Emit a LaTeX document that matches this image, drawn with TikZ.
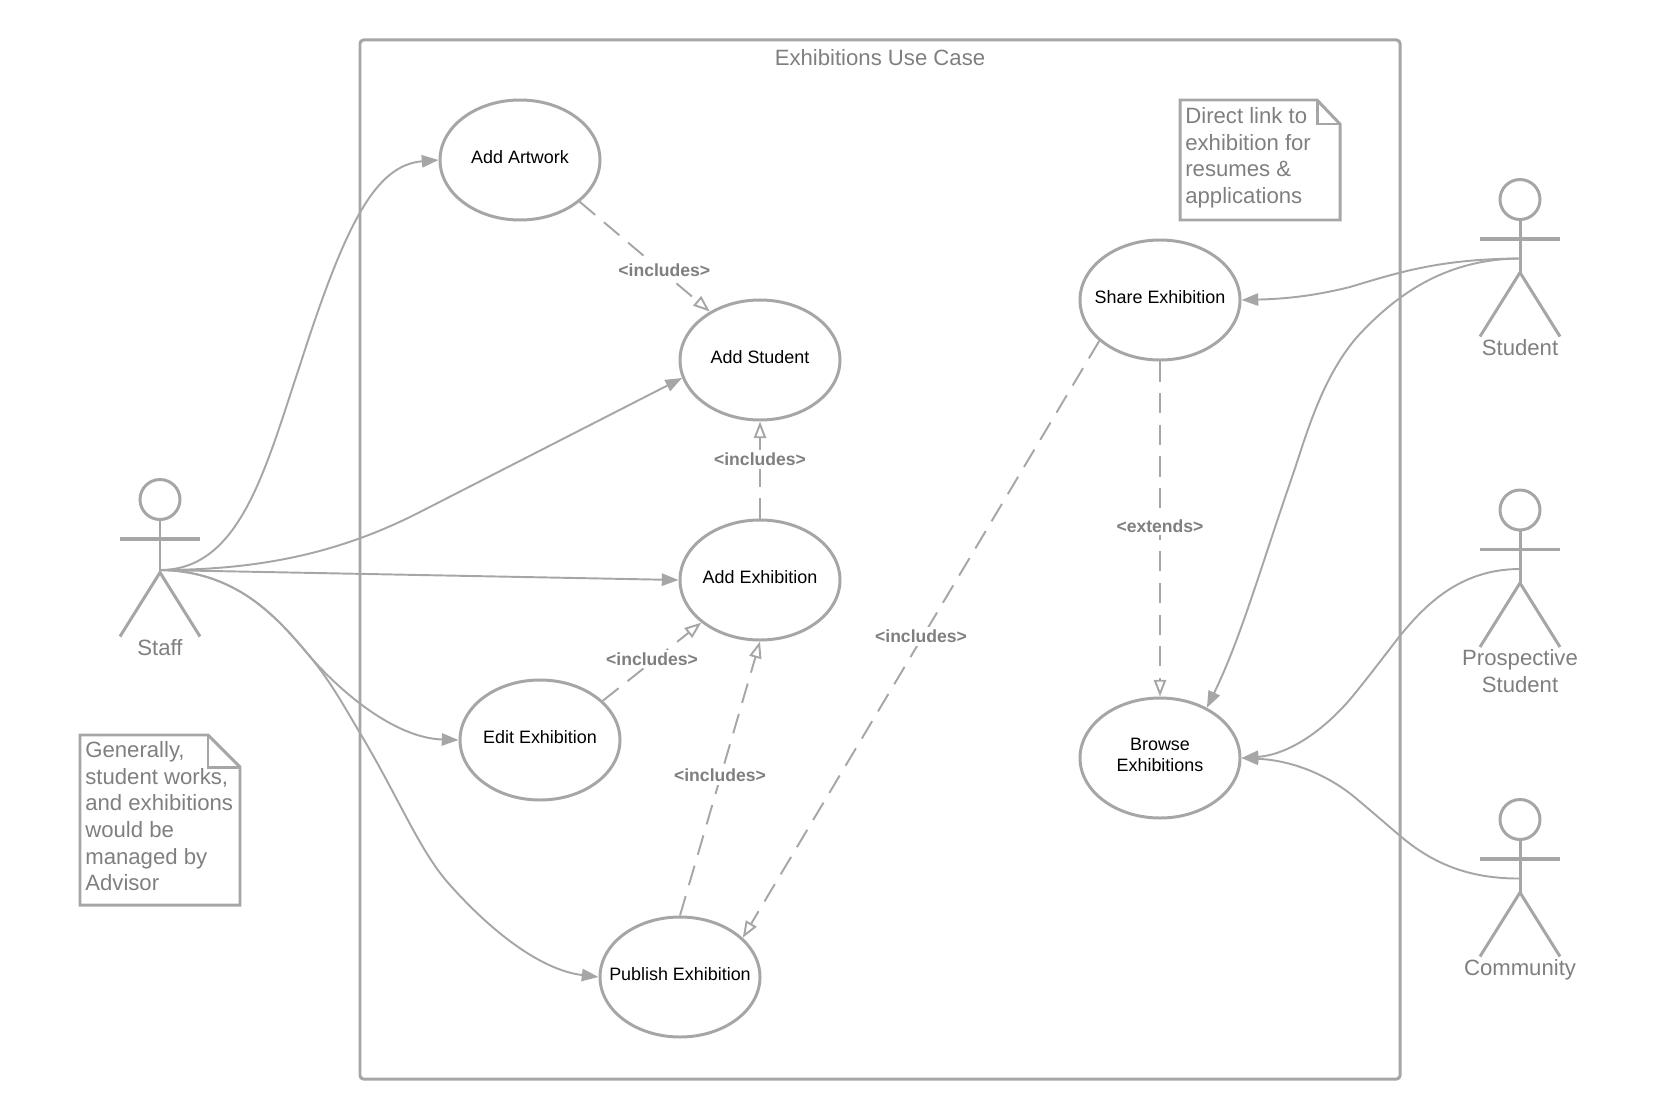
\documentclass[tikz,border=0pt]{standalone}
\usepackage{fontspec}
\setmainfont{Liberation Sans}
\usetikzlibrary{arrows.meta,shapes.geometric}

\definecolor{umlline}{HTML}{A6A6A6}
\definecolor{umltext}{HTML}{7F7F7F}

\newcommand{\actor}[5]{
  \begin{scope}[shift={(#2,#3)}]
    \node[actor head] (#1) at (0,0) {};
    \draw[actor line] (#1.south) -- (0,73);
    \draw[actor line,line width=2.2pt] (-40,39.5) -- (40,39.5);
    \draw[actor line] (-40,137) -- (0,73) -- (40,137);
    \coordinate (#1hub) at (0,#4);
    \node[actor text] (#1name) at (0,139.5) {#5};
  \end{scope}
}

\begin{document}
\begin{tikzpicture}[x=.2mm,y=-.2mm,
					use case/.style={ellipse,draw=umlline,line width=1.7pt,
						minimum width=32mm,minimum height=24mm,
						inner xsep=-20pt,inner ysep=0pt,text depth=3.6pt,align=center,
						font=\fontsize{10.2}{12.2}\selectfont},
					system box/.style={draw=umlline,line width=1.7pt,rounded corners=2pt,
						minimum width=208mm,minimum height=207.8mm},
					big text/.style={text=umltext,inner sep=0pt,
						font=\fontsize{12.6}{15.2}\selectfont},
					note text/.style={big text,anchor=north west,align=left},
					note line/.style={draw=umlline,line width=1.7pt},
					actor head/.style={circle,draw=umlline,line width=1.7pt,
						minimum size=8mm,inner sep=0pt},
					actor line/.style={draw=umlline,line width=1.7pt},
					actor text/.style={big text,anchor=north,align=center},
					assoc/.style={draw=umlline,line width=1.1pt,
						-{Triangle[length=9.5pt,width=7pt,color=umlline]}},
					dep/.style={draw=umlline,line width=1.1pt,dash pattern=on 11.5pt off 6.5pt,
						-{Triangle[open,length=9.5pt,width=7pt,fill=white,color=umlline]}},
					dep text/.style={fill=white,text=umltext,inner sep=1.5pt,yshift=1.6pt,
						font=\fontsize{10}{12}\selectfont\bfseries}]

  \useasboundingbox (0,0) rectangle (1680,1120);

  \node[system box] (SYS) at (880,559.5) {};
  \node[big text] (TITLE) at (880,58) {Exhibitions Use Case};

  \node[use case] (AA) at (520,160) {Add Artwork};
  \node[use case] (AS) at (760,360) {Add Student};
  \node[use case] (AE) at (760,580) {Add Exhibition};
  \node[use case] (EE) at (540,740) {Edit Exhibition};
  \node[use case] (PE) at (680,977) {Publish Exhibition};
  \node[use case] (SE) at (1160,300) {Share Exhibition};
  \node[use case] (BE) at (1160,758) {Browse\\Exhibitions};

  \actor{STAFF}{160}{499.5}{70.5}{Staff}
  \actor{STU}{1520}{199.5}{59}{Student}
  \actor{PROS}{1520}{510}{59}{Prospective\\Student}
  \actor{COM}{1520}{819.5}{59}{Community}

  % notes
  \draw[note line] (80,735) -- (208,735) -- (240,767) -- (240,905) -- (80,905) -- cycle;
  \draw[note line] (208,735) -- (208,767) -- (240,767);
  \node[note text] (NSTAFF) at (85,741) {Generally,\\student works,\\and exhibitions\\would be\\managed by\\Advisor};

  \draw[note line] (1180,100) -- (1317,100) -- (1340,124) -- (1340,220) -- (1180,220) -- cycle;
  \draw[note line] (1317,100) -- (1317,124) -- (1340,124);
  \node[note text] (NSHARE) at (1185,107) {Direct link to\\exhibition for\\resumes \&\\applications};

  \draw[assoc] (STAFFhub) .. controls (240,570) and (265,470) .. (300,365)
    .. controls (345,225) and (375,165) .. (AA.west);
  \draw[assoc] (STAFFhub) .. controls (260,570) and (340,553) .. (420,512) -- (AS.193);
  \draw[assoc] (STAFFhub) -- (AE.west);
  \draw[assoc] (STAFFhub) .. controls (235,571) and (275,615) .. (307,653)
    .. controls (340,692) and (395,738) .. (EE.west);
  \draw[assoc] (STAFFhub) .. controls (235,571) and (275,615) .. (307,653)
    .. controls (330,680) and (345,708) .. (360,733)
    .. controls (400,800) and (420,852) .. (450,885)
    .. controls (490,930) and (540,970) .. (PE.west);

  \draw[assoc] (STUhub) .. controls (1440,259) and (1400,272) .. (1350,287)
    .. controls (1310,297) and (1280,299) .. (SE.east);
  \draw[assoc] (STUhub) .. controls (1450,259) and (1400,290) .. (1357,337)
    .. controls (1320,380) and (1305,440) .. (1291,480)
    .. controls (1260,570) and (1240,640) .. (BE.47);
  \draw[assoc] (PROShub) .. controls (1460,569) and (1425,605) .. (1399,637)
    .. controls (1385,655) and (1370,675) .. (1352,697)
    .. controls (1320,735) and (1285,755) .. (BE.east);
  \draw[assoc] (COMhub) .. controls (1460,879) and (1425,857) .. (1399,835)
    .. controls (1385,823) and (1370,810) .. (1352,795)
    .. controls (1320,770) and (1285,760) .. (BE.east);

  \path[every edge/.style={dep},every node/.style={dep text}]
    (AA.-35) edge node[pos=.65] {<includes>} (AS.136)
    (AE.north) edge node[pos=.58] {<includes>} (AS.south)
    (EE.32) edge node {<includes>} (AE.216)
    (PE.north) edge node {<includes>} (AE.south)
    (SE.214) edge node {<includes>} (PE.32)
    (SE.south) edge node {<extends>} (BE.north);
\end{tikzpicture}
\end{document}
